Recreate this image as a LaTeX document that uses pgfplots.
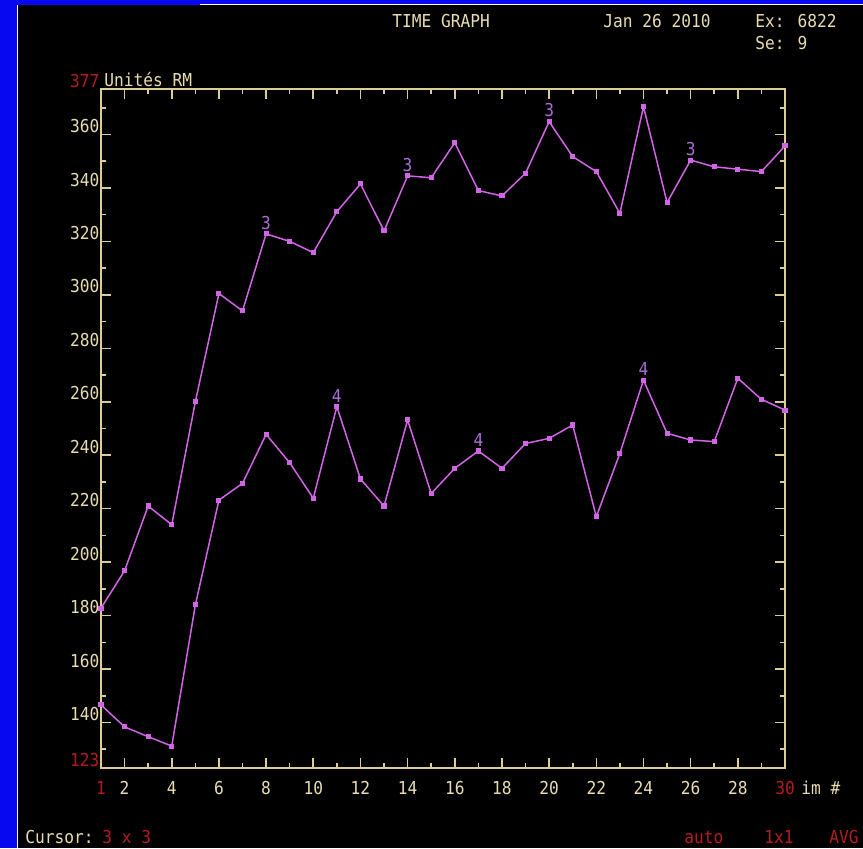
\documentclass[border=0pt]{standalone}
\usepackage{pgfplots}
\pgfplotsset{compat=1.18}
\usepackage{fontspec}
\newfontfamily\mono[FakeStretch=0.91]{DejaVu Sans Mono}
\newcommand\tfont{\mono\fontsize{8.9}{10}\selectfont}
\definecolor{bluebg}{RGB}{8,8,240}
\definecolor{labcol}{RGB}{232,220,176}
\definecolor{axiscol}{RGB}{220,205,150}
\definecolor{redcol}{RGB}{180,28,34}
\definecolor{linecol}{RGB}{210,100,230}
\definecolor{numcol}{RGB}{170,110,215}

\pgfplotstableread{
x y
1 182.8
2 196.8
3 221
4 214
5 260
6 300.5
7 294
8 322.8
9 320
10 315.8
11 331.1
12 341.5
13 323.9
14 344.5
15 343.8
16 356.9
17 339
18 337
19 345.5
20 364.8
21 351.7
22 346.1
23 330.5
24 370.4
25 334.5
26 350.4
27 347.9
28 347
29 346.1
30 355.7
}\seriesthree

\pgfplotstableread{
x y
1 146.6
2 138.4
3 134.7
4 131.2
5 184
6 223.2
7 229.5
8 247.8
9 237.2
10 223.9
11 258.2
12 231.1
13 221
14 253.2
15 225.7
16 235.1
17 241.6
18 235.1
19 244.4
20 246.3
21 251.3
22 217
23 240.7
24 268.1
25 248.2
26 245.7
27 245.1
28 268.8
29 260.9
30 256.9
}\seriesfour

\begin{document}
\begin{tikzpicture}
\path[use as bounding box] (0pt,0pt) rectangle (431.5pt,424pt);
\fill[bluebg] (0pt,0pt) rectangle (431.5pt,424pt);
\fill[black] (9pt,0pt) rectangle (431.5pt,421.5pt);
\draw[white, line width=0.8pt] (8.75pt,0pt) -- (8.75pt,421.5pt);
\draw[white, line width=0.8pt] (100pt,421.65pt) -- (431.5pt,421.65pt);

\begin{scope}[every node/.style={anchor=base west, inner sep=0pt, font=\tfont}]
\node[text=labcol] at (196pt,410pt) {TIME GRAPH};
\node[text=labcol] at (301.5pt,410pt) {Jan 26 2010};
\node[text=labcol] at (377.5pt,410pt) {Ex: 6822};
\node[text=labcol] at (377.5pt,399pt) {Se: 9};
\node[text=labcol] at (52pt,380.5pt) {Unités RM};
\node[text=labcol] at (400.5pt,26.75pt) {im \#};
\node[text=labcol] at (12.5pt,2.5pt) {Cursor:};
\node[text=redcol] at (51pt,2.5pt) {3 x 3};
\node[text=redcol] at (342pt,2.5pt) {auto};
\node[text=redcol] at (382pt,2.5pt) {1x1};
\node[text=redcol] at (414.5pt,2.5pt) {AVG};
\end{scope}

\begin{axis}[
  at={(50.5pt,40pt)}, anchor=south west,
  scale only axis, width=342pt, height=339.5pt,
  xmin=1, xmax=30, ymin=123, ymax=377,
  axis line style={draw=axiscol, line width=1pt},
  xtick={2,4,...,28}, minor xtick={3,5,...,29},
  ytick={140,160,...,360}, minor ytick={130,150,...,370},
  xtick pos=both, ytick pos=both,
  xticklabel pos=bottom, yticklabel pos=left,
  tick align=inside,
  major tick length=5pt, minor tick length=2.3pt,
  every tick/.style={draw=axiscol, line width=0.8pt},
  minor tick style={draw=axiscol, line width=0.8pt},
  /pgf/number format/assume math mode=true,
  ticklabel style={font=\tfont, text=labcol},
  xticklabel style={anchor=north, inner sep=0pt, yshift=-6.5pt},
  yticklabel style={anchor=south east, inner sep=0.6pt},
  extra x ticks={1,30},
  extra x tick labels={1,30},
  extra x tick style={major tick length=0pt, xticklabel style={text=redcol}},
  extra y ticks={123,377},
  extra y tick labels={123,377},
  extra y tick style={major tick length=0pt, yticklabel style={text=redcol}},
  axis background/.style={fill=black},
]
\addplot[linecol, line width=0.75pt, mark=square*, mark size=0.9pt,
  mark options={fill=linecol, draw=linecol}] table[x=x,y=y] {\seriesthree};
\addplot[linecol, line width=0.75pt, mark=square*, mark size=0.9pt,
  mark options={fill=linecol, draw=linecol}] table[x=x,y=y] {\seriesfour};
\addplot[draw=none, mark=none, nodes near coords={3},
  every node near coord/.append style={anchor=south, inner sep=0pt, yshift=2pt, font=\tfont, text=numcol}]
  coordinates {(8,322.8) (14,344.5) (20,364.8) (26,350.4)};
\addplot[draw=none, mark=none, nodes near coords={4},
  every node near coord/.append style={anchor=south, inner sep=0pt, yshift=2pt, font=\tfont, text=numcol}]
  coordinates {(11,258.2) (17,241.6) (24,268.1)};
\end{axis}
\end{tikzpicture}
\end{document}
